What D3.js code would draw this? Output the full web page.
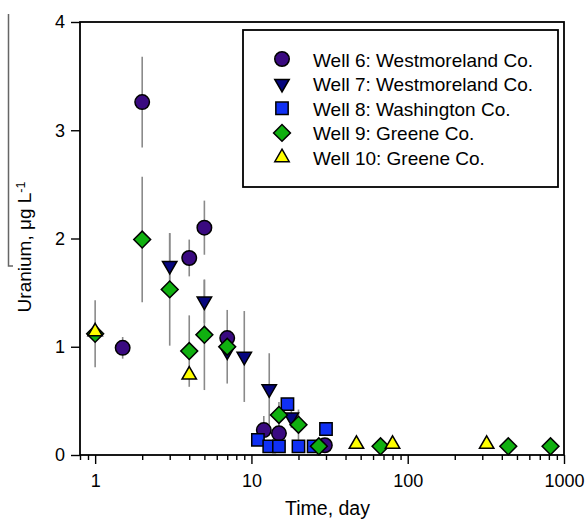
<!DOCTYPE html>
<html>
<head>
<meta charset="utf-8">
<script src="https://d3js.org/d3.v7.min.js"></script>
<style>
  html, body { margin: 0; padding: 0; background: #fff; }
  svg { display: block; font-family: "Liberation Sans", Arial, sans-serif; }
</style>
</head>
<body>
<svg id="chart" width="587" height="519"></svg>
<script>
// ── data ─────────────────────────────────────────────────────────────────────
const well6Days = [1.5, 2, 4, 5, 7, 12, 15, 29.5];
const well6U    = [0.99, 3.26, 1.82, 2.10, 1.08, 0.23, 0.20, 0.09];
const well6Err  = [0.10, 0.42, 0.17, 0.25, 0, 0.13, 0.08, 0];

const well7Days = [3, 5, 7, 9, 13, 18];
const well7U    = [1.75, 1.42, 0.96, 0.91, 0.61, 0.35];
const well7Err  = [0.30, 0.20, 0, 0.42, 0.33, 0.10];

const well8Days = [11, 13, 15, 17, 20, 25, 30];
const well8U    = [0.14, 0.08, 0.08, 0.47, 0.08, 0.08, 0.24];
const well8Err  = [0, 0, 0, 0, 0, 0, 0];

const well9Days = [1, 2, 3, 4, 5, 7, 15, 20, 27, 67, 440, 820];
const well9U    = [1.12, 1.99, 1.53, 0.96, 1.11, 1.00, 0.37, 0.28, 0.08, 0.08, 0.08, 0.08];
const well9Err  = [0.31, 0.58, 0.52, 0.33, 0.51, 0.34, 0.12, 0.14, 0, 0, 0, 0];

const well10Days = [1, 4, 47, 80, 320];
const well10U    = [1.14, 0.74, 0.10, 0.10, 0.10];
const well10Err  = [0, 0, 0, 0, 0];

const seriesNames = [
  'Well 6: Westmoreland Co.',
  'Well 7: Westmoreland Co.',
  'Well 8: Washington Co.',
  'Well 9: Greene Co.',
  'Well 10: Greene Co.'
];

const xMajorTicks = [1, 10, 100, 1000];
const yTicks = [0, 1, 2, 3, 4];

// ── layout ───────────────────────────────────────────────────────────────────
const plot = { left: 80, right: 564, top: 22, bottom: 455 };
const font = '"Liberation Sans", Arial, sans-serif';

const svg = d3.select('#chart');

const x = d3.scaleLog().domain([0.8, 1000]).range([plot.left, plot.right]);
const y = d3.scaleLinear().domain([0, 4]).range([plot.bottom, plot.top]);

// marker styles per series
const styles = [
  { fill: '#3a0a80', shape: d3.symbolCircle,   size: 165, rotate: 0 },
  { fill: '#06067e', shape: d3.symbolTriangle, size: 90,  rotate: 180 },
  { fill: '#1030f4', shape: d3.symbolSquare,   size: 152, rotate: 0 },
  { fill: '#10b010', shape: d3.symbolSquare,   size: 142, rotate: 45 },
  { fill: '#ffff00', shape: d3.symbolTriangle, size: 90,  rotate: 0 }
];

const series = [
  { days: well6Days,  u: well6U,  err: well6Err },
  { days: well7Days,  u: well7U,  err: well7Err },
  { days: well8Days,  u: well8U,  err: well8Err },
  { days: well9Days,  u: well9U,  err: well9Err },
  { days: well10Days, u: well10U, err: well10Err }
].map((s, i) => ({
  name: seriesNames[i],
  style: styles[i],
  points: s.days.map((d, j) => ({ day: d, u: s.u[j], err: s.err[j] }))
}));

// ── axes ─────────────────────────────────────────────────────────────────────
const minorTicks = [];
[0.1, 1, 10, 100].forEach(dec => {
  for (let k = 2; k <= 9; k++) {
    const v = dec * k;
    if (v >= 0.8 && v < 1000 && !xMajorTicks.includes(v)) minorTicks.push(v);
  }
});

const xMinor = svg.append('g')
  .attr('transform', `translate(0,${plot.bottom})`)
  .call(d3.axisBottom(x).tickValues(minorTicks).tickSize(5).tickFormat(''));

const xMajor = svg.append('g')
  .attr('transform', `translate(0,${plot.bottom})`)
  .call(d3.axisBottom(x).tickValues(xMajorTicks).tickSize(9).tickPadding(10)
    .tickFormat(d3.format('d')));

const yAxis = svg.append('g')
  .attr('transform', `translate(${plot.left},0)`)
  .call(d3.axisLeft(y).tickValues(yTicks).tickSize(9).tickPadding(6)
    .tickFormat(d3.format('d')));

[xMinor, xMajor, yAxis].forEach(g => {
  g.select('.domain').remove();
  g.selectAll('line').attr('stroke', '#000').attr('stroke-width', 1.4);
  g.selectAll('text')
    .attr('fill', '#000')
    .style('font-family', font)
    .style('font-size', '18px');
});

// frame
svg.append('rect')
  .attr('x', plot.left)
  .attr('y', plot.top)
  .attr('width', plot.right - plot.left)
  .attr('height', plot.bottom - plot.top)
  .attr('fill', 'none')
  .attr('stroke', '#000')
  .attr('stroke-width', 1.8);

// axis titles
svg.append('text')
  .attr('x', 327.5)
  .attr('y', 514.5)
  .attr('text-anchor', 'middle')
  .style('font-family', font)
  .style('font-size', '19.5px')
  .text('Time, day');

const yTitle = svg.append('text')
  .attr('transform', 'translate(31,247) rotate(-90)')
  .attr('text-anchor', 'middle')
  .style('font-family', font)
  .style('font-size', '19px');
yTitle.append('tspan').text('Uranium, \u03bcg L');
yTitle.append('tspan').attr('dy', '-0.5em').style('font-size', '12.5px').text('-1');

// stray overline from the original export
svg.append('path')
  .attr('d', 'M8.5,14 V266 H13')
  .attr('fill', 'none')
  .attr('stroke', '#666')
  .attr('stroke-width', 1.5);

// ── error bars (behind everything) ───────────────────────────────────────────
const errG = svg.append('g');
series.forEach(s => {
  errG.selectAll(null)
    .data(s.points.filter(p => p.err > 0))
    .join('line')
    .attr('x1', p => x(p.day))
    .attr('x2', p => x(p.day))
    .attr('y1', p => y(p.u - p.err))
    .attr('y2', p => y(p.u + p.err))
    .attr('stroke', '#8a8a8a')
    .attr('stroke-width', 1.6);
});

// ── markers ──────────────────────────────────────────────────────────────────
const symbolPath = st => d3.symbol().type(st.shape).size(st.size)();

series.forEach(s => {
  svg.append('g').selectAll('path')
    .data(s.points)
    .join('path')
    .attr('d', symbolPath(s.style))
    .attr('transform', p => `translate(${x(p.day)},${y(p.u)}) rotate(${s.style.rotate})`)
    .attr('fill', s.style.fill)
    .attr('stroke', '#000')
    .attr('stroke-width', 1.5);
});

// ── legend ───────────────────────────────────────────────────────────────────
const legend = svg.append('g');
legend.append('rect')
  .attr('x', 243)
  .attr('y', 30)
  .attr('width', 315)
  .attr('height', 157)
  .attr('fill', '#fff')
  .attr('stroke', '#000')
  .attr('stroke-width', 1.8);

const rowY = d3.scalePoint().domain(seriesNames).range([59, 157.5]);

const rows = legend.selectAll('g.row')
  .data(series)
  .join('g')
  .attr('class', 'row')
  .attr('transform', s => `translate(0,${rowY(s.name)})`);

rows.append('path')
  .attr('d', s => symbolPath(s.style))
  .attr('transform', s => `translate(282,0) rotate(${s.style.rotate})`)
  .attr('fill', s => s.style.fill)
  .attr('stroke', '#000')
  .attr('stroke-width', 1.5);

rows.append('text')
  .attr('x', 313)
  .attr('y', 7.5)
  .style('font-family', font)
  .style('font-size', '19px')
  .text(s => s.name);
</script>
</body>
</html>
